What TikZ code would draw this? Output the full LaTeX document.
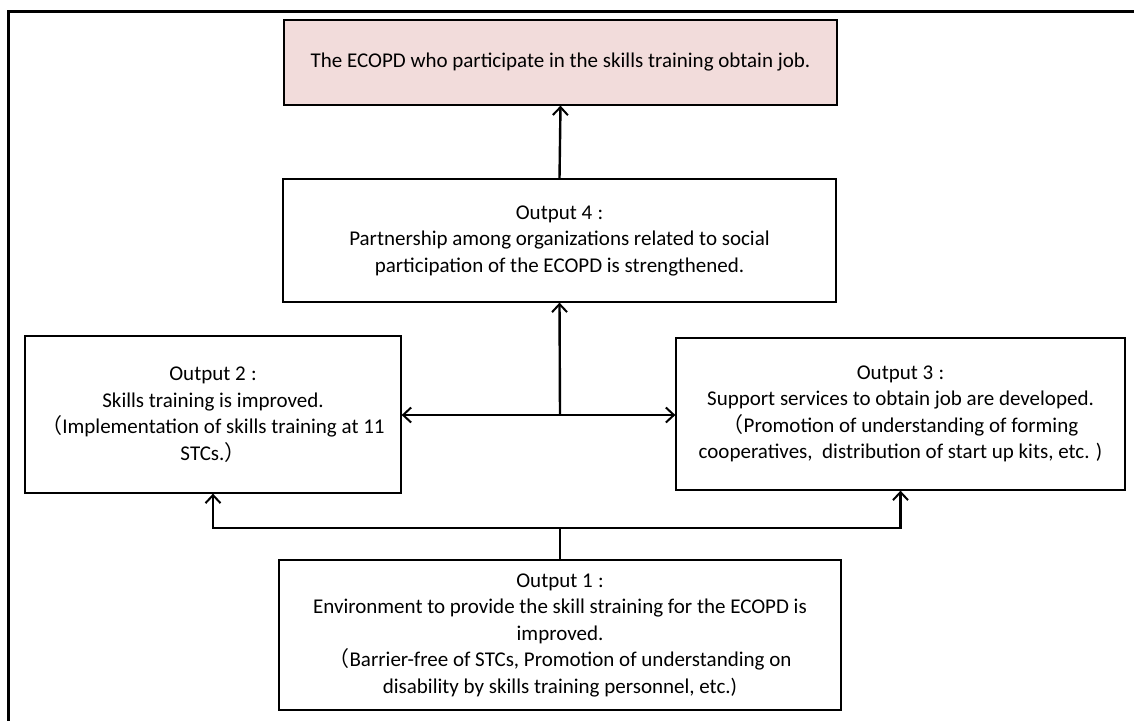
\documentclass[tikz,border=0pt]{standalone}
\usepackage{fontspec}
\setmainfont{Carlito}
\newfontfamily\cjk{Noto Sans CJK JP}
\usetikzlibrary{arrows.meta}
\definecolor{pinkfill}{RGB}{242,220,219}
\newcommand{\colonsep}{\hspace{0.25em}:}
\begin{document}
\begin{tikzpicture}[x=1pt,y=-1pt,
  box/.style={draw=black, line width=1.3pt, rectangle, inner sep=0pt, align=center,
    font=\fontsize{21}{26.5}\selectfont},
  conn/.style={line width=2.4pt, -{Straight Barb[length=8pt,width=15pt,line width=2pt]}},
  plainline/.style={line width=2.4pt}]
\useasboundingbox (0,0) rectangle (1134,720);
\draw[line width=3pt] (1160,11) -- (8,11) -- (8,760);

\node[box, fill=pinkfill, minimum width=553pt, minimum height=85pt] (top) at (560.5,62.5)
  {The ECOPD who participate in the skills training obtain job.};
\node[box, minimum width=553pt, minimum height=123pt] (o4) at (559.5,240.5)
  {Output 4\colonsep\\Partnership among organizations related to social\\participation of the ECOPD is strengthened.};
\node[box, minimum width=376pt, minimum height=157pt] (o2) at (213,414.5)
  {Output 2\colonsep\\Skills training is improved.\\{\cjk （}Implementation of skills training at 11\\STCs.{\cjk ）}};
\node[box, minimum width=449pt, minimum height=152pt] (o3) at (900.5,414)
  {Output 3\colonsep\\Support services to obtain job are developed.\\{\cjk （}Promotion of understanding of forming\\cooperatives,\ \ distribution of start up kits, etc. )};
\node[box, minimum width=562pt, minimum height=150pt] (o1) at (560,635)
  {Output 1\colonsep\\Environment to provide the skill straining for the ECOPD is\\improved.\\{\cjk （}Barrier-free of STCs, Promotion of understanding on\\disability by skills training personnel, etc.)};

\coordinate (mid) at (560,415);
\coordinate (low) at (560,528);
\draw[conn] (o4.north) -- (top.south);
\draw[conn] (mid) -- (o4.south);
\draw[conn] (mid) -- (o2.east |- mid);
\draw[conn] (mid) -- (o3.west |- mid);
\draw[plainline] (o1.north) -- (low);
\draw[conn] (low) -| (o2.south);
\draw[conn] (low) -| (o3.south);
\end{tikzpicture}
\end{document}
